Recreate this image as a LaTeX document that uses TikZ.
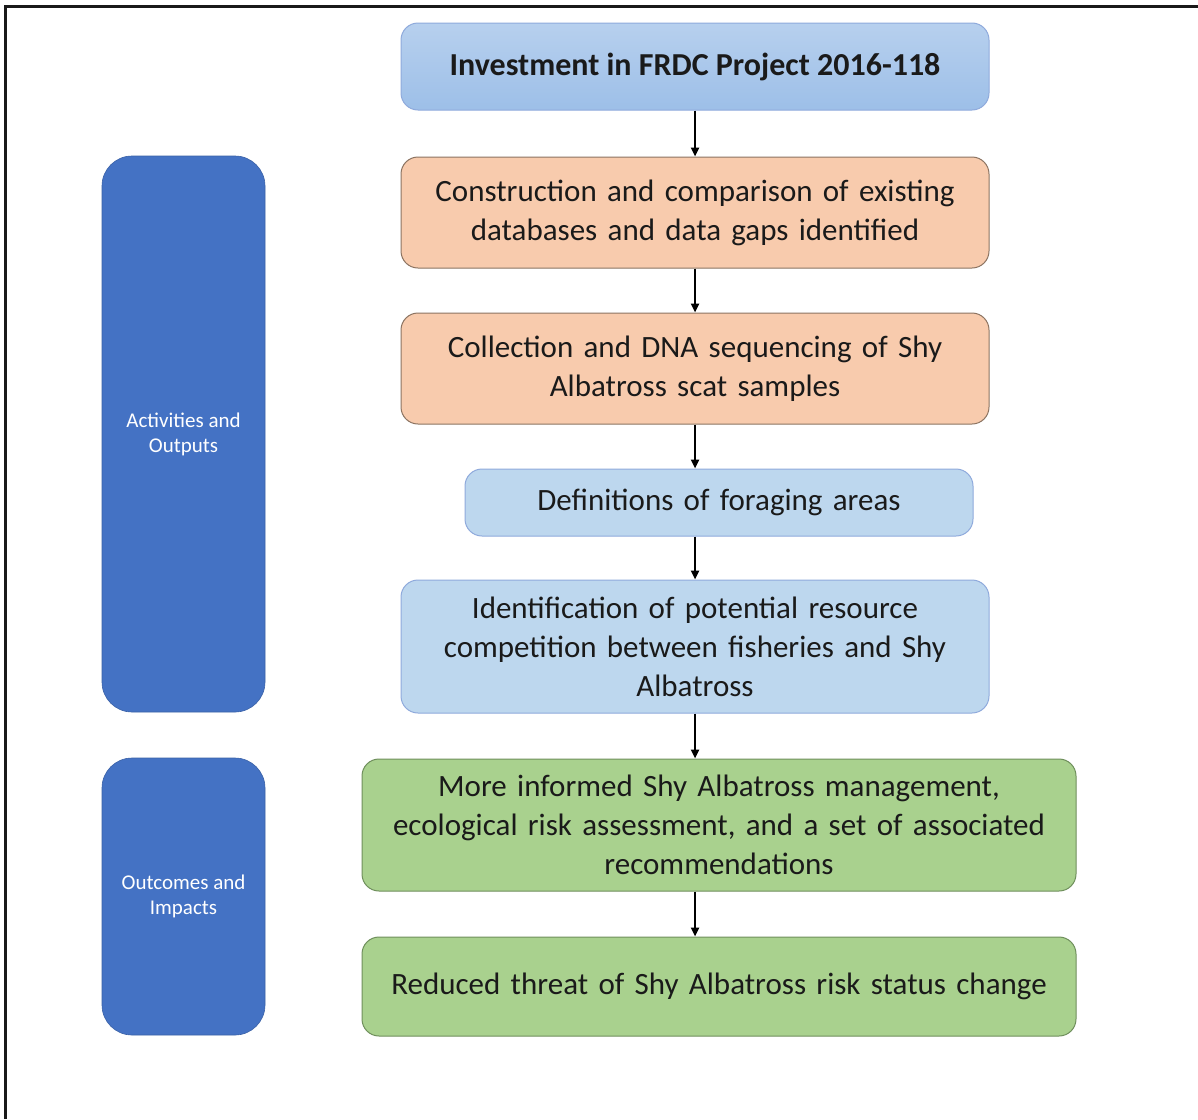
\documentclass[tikz,border=0pt]{standalone}
\usepackage{fontspec}
\setmainfont{Carlito}
\usetikzlibrary{arrows.meta}
\definecolor{txt}{HTML}{1A1A1A}
\definecolor{ltblue}{HTML}{BDD7EE}
\definecolor{ltblueedge}{HTML}{8FAADC}
\definecolor{topa}{HTML}{B7D0EE}
\definecolor{topb}{HTML}{9DBFE8}
\definecolor{peach}{HTML}{F8CBAD}
\definecolor{peachedge}{HTML}{8C7462}
\definecolor{leaf}{HTML}{A9D18E}
\definecolor{leafedge}{HTML}{6F8F5C}
\definecolor{sidebar}{HTML}{4472C4}
\tikzset{
  box/.style={rounded corners=17pt, line width=1pt, align=center, text=txt,
    inner sep=0pt, font=\fontsize{31}{39}\selectfont},
  headbox/.style={box, draw=ltblueedge, top color=topa, bottom color=topb,
    font=\bfseries\fontsize{32}{36}\selectfont},
  bluebox/.style={box, draw=ltblueedge, fill=ltblue},
  peachbox/.style={box, draw=peachedge, fill=peach},
  greenbox/.style={box, draw=leafedge, fill=leaf},
  sidebox/.style={rounded corners=30pt, fill=sidebar, draw=sidebar!85!black,
    line width=0.6pt, text=white, align=center,
    font=\fontsize{21}{25}\selectfont, minimum width=163pt},
  arr/.style={-{Triangle[length=9pt,width=8pt]}, line width=2.6pt, draw=black}
}
\begin{document}
\begin{tikzpicture}[x=1pt,y=-1pt]
\useasboundingbox (0,0) rectangle (1198,1119);
\fill[white] (0,0) rectangle (1198,1119);
% page frame (top and left edges)
\draw[line width=3pt, black!90] (5,1119) -- (5,6.5) -- (1198,6.5);

% side labels
\node[sidebox, minimum height=556pt] (act) at (183.5,434) {Activities and\\Outputs};
\node[sidebox, minimum height=277pt] (out) at (183.5,896.5) {Outcomes and\\Impacts};

% main chain
\node[headbox, minimum width=588pt, minimum height=87pt] (b1) at (695,66.5)
  {Investment in FRDC Project 2016-118};
\node[peachbox, minimum width=588pt, minimum height=111pt, text width=570pt] (b2) at (695,212.5)
  {Construction and comparison of existing\\databases and data gaps identified};
\node[peachbox, minimum width=588pt, minimum height=111pt, text width=570pt] (b3) at (695,368.5)
  {Collection and DNA sequencing of Shy\\Albatross scat samples};
\node[bluebox, minimum width=508pt, minimum height=67pt, text width=490pt] (b4) at (719,502.5)
  {Definitions of foraging areas};
\node[bluebox, minimum width=588pt, minimum height=133pt, text width=570pt] (b5) at (695,646.5)
  {Identification of potential resource\\competition between fisheries and Shy\\Albatross};
\node[greenbox, minimum width=714pt, minimum height=132pt, text width=700pt] (b6) at (719,825)
  {More informed Shy Albatross management,\\ecological risk assessment, and a set of associated\\recommendations};
\node[greenbox, minimum width=714pt, minimum height=99pt, text width=700pt] (b7) at (719,986.5)
  {Reduced threat of Shy Albatross risk status change};

% connectors
\draw[arr] (b1.south) -- (b2.north);
\draw[arr] (b2.south) -- (b3.north);
\draw[arr] (b3.south) -- (b4.north -| b3);
\draw[arr] (b4.south -| b3) -- (b5.north);
\draw[arr] (b5.south) -- (b6.north -| b5);
\draw[arr] (b6.south -| b5) -- (b7.north -| b5);
\end{tikzpicture}
\end{document}
